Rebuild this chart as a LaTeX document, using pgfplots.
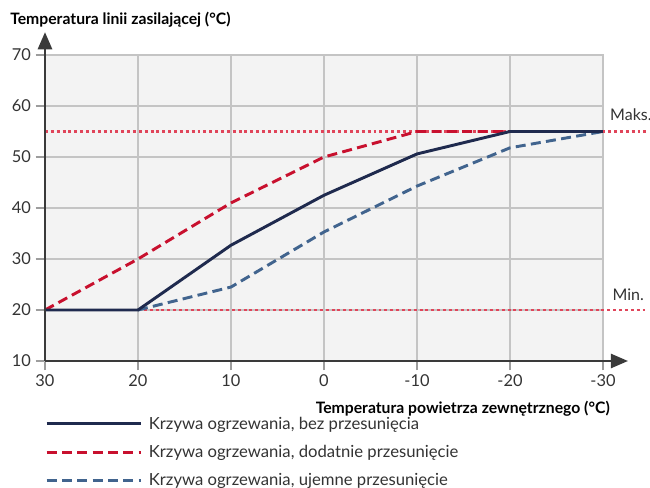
\documentclass[border=0pt]{standalone}
\usepackage{fontspec}
\setmainfont{Lato}
\usepackage{pgfplots}
\pgfplotsset{compat=1.18}
\usetikzlibrary{arrows.meta}
\definecolor{navy}{HTML}{1F2A4E}
\definecolor{crim}{HTML}{C8102E}
\definecolor{steel}{HTML}{41648E}
\definecolor{dotred}{HTML}{E0455A}
\definecolor{axgray}{HTML}{3A3A3A}
\definecolor{bg}{HTML}{F3F3F3}
\definecolor{gridc}{HTML}{C4C4C4}
\definecolor{txt}{HTML}{333333}
\begin{document}
\begin{tikzpicture}
\path[use as bounding box] (0,0) rectangle (487.5pt,-366pt);
\begin{axis}[
  at={(33.75pt,-270.75pt)}, anchor=south west,
  width=418.5pt, height=229.5pt, scale only axis,
  xmin=-30, xmax=30, x dir=reverse, ymin=10, ymax=70,
  xtick={-30,-20,...,30}, ytick={10,20,...,70},
  /pgf/number format/assume math mode=true,
  grid=major, major grid style={gridc, line width=0.9pt},
  axis background/.style={fill=bg},
  axis line style={gridc, line width=0.9pt},
  tick pos=left, tick align=outside, major tick length=7pt,
  tick style={gridc!80!black, line width=0.8pt},
  tick label style={font=\fontsize{12.3}{14}\selectfont, text=txt},
  clip=false,
  legend style={at={(axis description cs:0,-0.177)}, anchor=north west, draw=none, fill=none,
    inner sep=0pt, row sep=8.5pt, font=\fontsize{12.5}{14}\selectfont, text=txt,
    nodes={inner sep=1pt}},
  legend cell align=left,
  legend image code/.code={\draw[#1] (0pt,0pt) -- (71pt,0pt); \path (74.5pt,0pt);},
]
\addlegendimage{navy, line width=2.2pt}
\addlegendentry{Krzywa ogrzewania, bez przesunięcia}
\addlegendimage{crim, line width=2.2pt, dash pattern=on 7.5pt off 4pt}
\addlegendentry{Krzywa ogrzewania, dodatnie przesunięcie}
\addlegendimage{steel, line width=2.2pt, dash pattern=on 7.5pt off 4pt}
\addlegendentry{Krzywa ogrzewania, ujemne przesunięcie}

\addplot[forget plot, dotred, line width=2pt, dash pattern=on 2.2pt off 2.2pt] coordinates {(30,55) (-34.6,55)};
\addplot[forget plot, dotred, line width=2pt, dash pattern=on 2.2pt off 2.2pt] coordinates {(20,20) (-34.6,20)};
\addplot[forget plot, crim, line width=2.2pt, dash pattern=on 7.5pt off 4pt] coordinates {(30,20) (20,30) (10,41) (0,50) (-10,55) (-30,55)};
\addplot[forget plot, steel, line width=2.2pt, dash pattern=on 7.5pt off 4pt] coordinates {(20,20) (10,24.5) (0,35.3) (-10,44.3) (-20,51.8) (-30,55)};
\addplot[forget plot, navy, line width=2.2pt] coordinates {(30,20) (20,20) (10,32.7) (0,42.5) (-10,50.6) (-20,55) (-30,55)};

\draw[axgray, line width=2.2pt, -{Triangle[length=13pt,width=10.5pt]}] (axis description cs:0,0) -- (axis description cs:0,1.075);
\draw[axgray, line width=2.2pt, -{Triangle[length=13pt,width=10.5pt]}] (axis description cs:0,0) -- (axis description cs:1.045,0);

\node[anchor=base west, inner sep=0pt, font=\fontsize{12}{14}\selectfont, text=txt] at (axis cs:-30.75,57.2) {Maks.};
\node[anchor=base west, inner sep=0pt, font=\fontsize{12}{14}\selectfont, text=txt] at (axis cs:-31,21.8) {Min.};
\end{axis}
\node[anchor=base west, inner sep=0pt, font=\bfseries\fontsize{11.8}{13}\selectfont, text=black] at (7.5pt,-18.5pt) {Temperatura linii zasilającej (°C)};
\node[anchor=base east, inner sep=0pt, font=\bfseries\fontsize{11.8}{13}\selectfont, text=black] at (457.5pt,-310pt) {Temperatura powietrza zewnętrznego (°C)};
\end{tikzpicture}
\end{document}
